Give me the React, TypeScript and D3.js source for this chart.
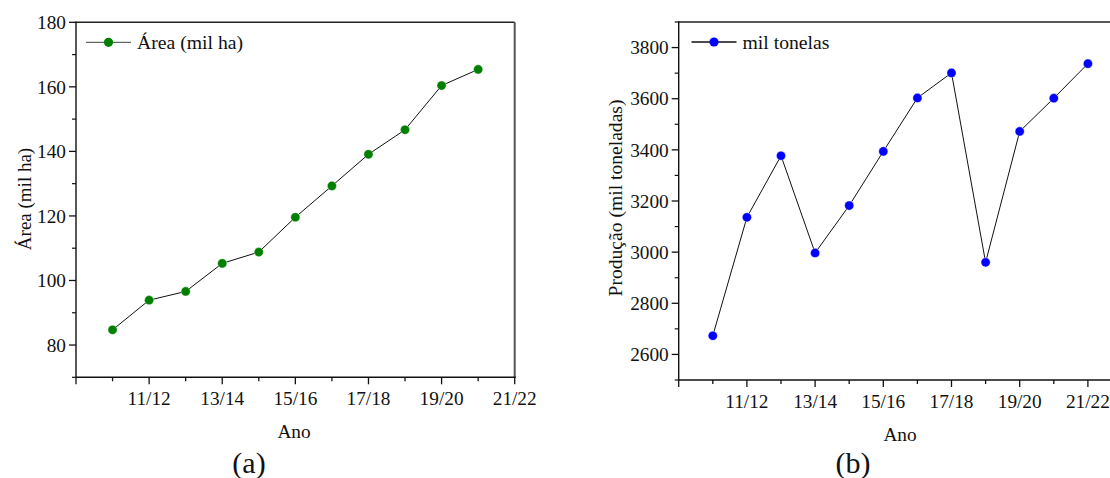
import React from "react";
import * as d3 from "d3";

// ---- data ----
const axisSeasonsA = ["09/10","10/11","11/12","12/13","13/14","14/15","15/16","16/17","17/18","18/19","19/20","20/21","21/22"];
const axisSeasonsB = ["09/10","10/11","11/12","12/13","13/14","14/15","15/16","16/17","17/18","18/19","19/20","20/21","21/22","22/23"];
const tickLabels = ["11/12","13/14","15/16","17/18","19/20","21/22"];
const areaSeasons = ["10/11","11/12","12/13","13/14","14/15","15/16","16/17","17/18","18/19","19/20","20/21"];
const areaValues = [84.7, 93.9, 96.6, 105.3, 108.8, 119.6, 129.3, 139.1, 146.7, 160.4, 165.4];
const prodSeasons = ["10/11","11/12","12/13","13/14","14/15","15/16","16/17","17/18","18/19","19/20","20/21","21/22"];
const prodValues = [2673, 3136, 3377, 2997, 3182, 3394, 3603, 3701, 2960, 3472, 3602, 3737];
const areaYTicks = [80, 100, 120, 140, 160, 180];
const areaYMinor = [70, 90, 110, 130, 150, 170];
const prodYTicks = [2600, 2800, 3000, 3200, 3400, 3600, 3800];
const prodYMinor = [2500, 2700, 2900, 3100, 3300, 3500, 3700, 3900];

const FONT = "'Liberation Serif', 'Times New Roman', serif";
const TXT = "#111";

type PanelProps = {
  axisSeasons: string[];
  xRange: [number, number];
  yDomain: [number, number];
  yRange: [number, number];
  yTicks: number[];
  yMinor: number[];
  seasons: string[];
  values: number[];
  color: string;
  legend: string;
  legendX: number;
  legendLineColor: string;
  yTitle: string;
  yTitleX: number;
  yTitleY: number;
  yTitleSize: number;
  xTitleX: number;
  panelLabel: string;
  panelLabelX: number;
  showRight: boolean;
};

function Panel(p: PanelProps) {
  const x = d3.scalePoint<string>().domain(p.axisSeasons).range(p.xRange).padding(0);
  const y = d3.scaleLinear().domain(p.yDomain).range(p.yRange);
  const [x0, x1] = p.xRange;
  const [yb, yt] = p.yRange;
  const line = d3
    .line<number>()
    .x((_, i) => x(p.seasons[i]) as number)
    .y((d) => y(d));
  const fs = 19.3;
  return (
    <g>
      {/* frame */}
      <line x1={x0} x2={p.showRight ? x1 : 1110} y1={yt} y2={yt} stroke="#222" strokeWidth={1.4} />
      {p.showRight && <line x1={x1} x2={x1} y1={yt} y2={yb} stroke="#555" strokeWidth={2} />}
      <line x1={x0} x2={x0} y1={yt - 0.7} y2={yb} stroke="#111" strokeWidth={1.4} />
      <line x1={x0} x2={p.showRight ? x1 + 1 : 1110} y1={yb} y2={yb} stroke="#111" strokeWidth={1.4} />
      {/* y ticks */}
      {p.yTicks.map((t) => (
        <g key={"yt" + t}>
          <line x1={x0 - 7} x2={x0} y1={y(t)} y2={y(t)} stroke="#111" strokeWidth={1.3} />
          <text x={x0 - 10} y={y(t)} dy="0.35em" textAnchor="end" fontFamily={FONT} fontSize={fs} fill={TXT}>
            {t}
          </text>
        </g>
      ))}
      {p.yMinor.map((t) => (
        <line key={"ym" + t} x1={x0 - 4} x2={x0} y1={y(t)} y2={y(t)} stroke="#111" strokeWidth={1.2} />
      ))}
      {/* x ticks */}
      {p.axisSeasons.map((s, i) => {
        const major = i % 2 === 0;
        const px = x(s) as number;
        if (px > 1110) return null;
        return (
          <g key={"xt" + s}>
            <line x1={px} x2={px} y1={yb} y2={yb + (major ? 7 : 4)} stroke="#111" strokeWidth={1.3} />
            {tickLabels.includes(s) && (
              <text x={px} y={yb + 27.5} textAnchor="middle" fontFamily={FONT} fontSize={fs} fill={TXT}>
                {s}
              </text>
            )}
          </g>
        );
      })}
      {/* series */}
      <path d={line(p.values) || ""} fill="none" stroke="#111" strokeWidth={1} />
      {p.values.map((v, i) => (
        <circle key={"pt" + i} cx={x(p.seasons[i]) as number} cy={y(v)} r={4.6} fill={p.color} stroke="#fff" strokeWidth={0.4} />
      ))}
      {/* legend */}
      <line x1={p.legendX} x2={p.legendX + 45} y1={yt + 20} y2={yt + 20} stroke={p.legendLineColor} strokeWidth={1.3} />
      <circle cx={p.legendX + 22.5} cy={yt + 20} r={4.6} fill={p.color} />
      <text x={p.legendX + 51} y={yt + 20} dy="0.35em" fontFamily={FONT} fontSize={fs + 0.4} fill={TXT}>
        {p.legend}
      </text>
      {/* titles */}
      <text
        transform={`translate(${p.yTitleX},${p.yTitleY}) rotate(-90)`}
        textAnchor="middle"
        fontFamily={FONT}
        fontSize={p.yTitleSize}
        fill={TXT}
      >
        {p.yTitle}
      </text>
      <text x={p.xTitleX} y={yb + 61} textAnchor="middle" fontFamily={FONT} fontSize={fs} fill={TXT}>
        Ano
      </text>
      <text x={p.panelLabelX} y={473} textAnchor="middle" fontFamily={FONT} fontSize={30} fill={TXT}>
        {p.panelLabel}
      </text>
    </g>
  );
}

export default function App() {
  return (
    <svg width={1110} height={478} style={{ position: "absolute", left: 0, top: 0, background: "#fff" }}>
      <rect width={1110} height={478} fill="#fff" />
      <Panel
        axisSeasons={axisSeasonsA}
        xRange={[76, 514.7]}
        yDomain={[70, 180]}
        yRange={[377.3, 22.3]}
        yTicks={areaYTicks}
        yMinor={areaYMinor}
        seasons={areaSeasons}
        values={areaValues}
        color="#008000"
        legend="Área (mil ha)"
        legendX={86}
        legendLineColor="#666"
        yTitle="Área (mil ha)"
        yTitleX={31}
        yTitleY={199}
        yTitleSize={19}
        xTitleX={294}
        panelLabel="(a)"
        panelLabelX={249}
        showRight={true}
      />
      <Panel
        axisSeasons={axisSeasonsB}
        xRange={[678.7, 1122]}
        yDomain={[2500, 3900]}
        yRange={[380, 22]}
        yTicks={prodYTicks}
        yMinor={prodYMinor}
        seasons={prodSeasons}
        values={prodValues}
        color="#0000ff"
        legend="mil tonelas"
        legendX={691.5}
        legendLineColor="#111"
        yTitle="Produção (mil toneladas)"
        yTitleX={622}
        yTitleY={198}
        yTitleSize={19.6}
        xTitleX={900}
        panelLabel="(b)"
        panelLabelX={853}
        showRight={false}
      />
    </svg>
  );
}
